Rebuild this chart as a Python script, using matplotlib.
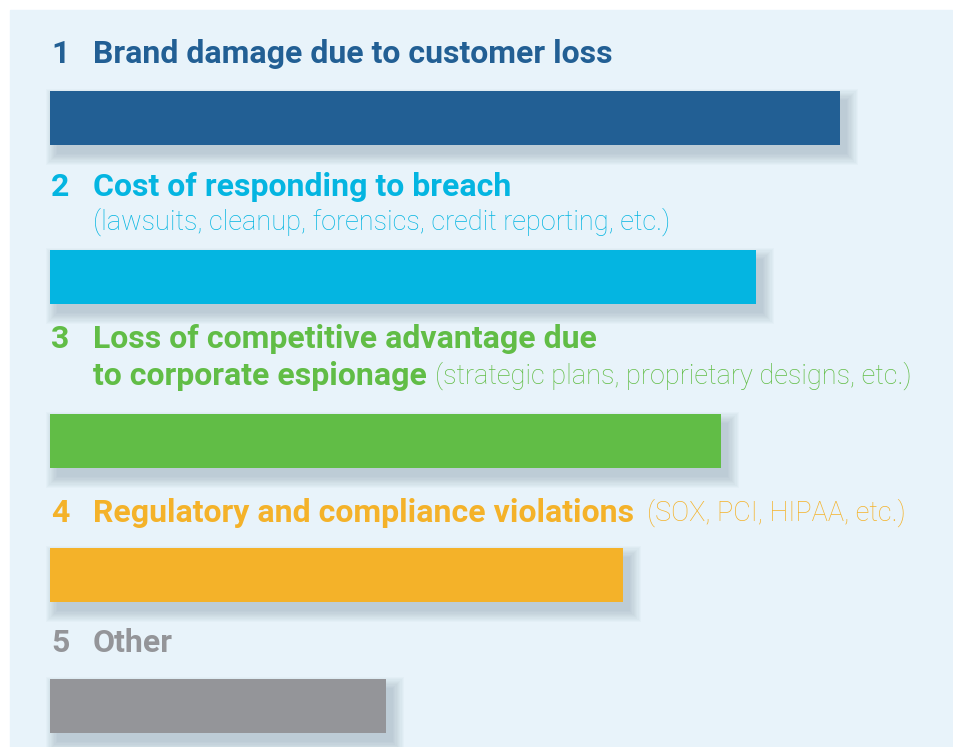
import matplotlib.pyplot as plt
from matplotlib.patches import Rectangle

plt.rcParams['font.family'] = ['Roboto', 'DejaVu Sans']

ranks = ['1', '2', '3', '4', '5']
titles = ['Brand damage due to customer loss',
          'Cost of responding to breach',
          'Loss of competitive advantage due\nto corporate espionage',
          'Regulatory and compliance violations',
          'Other']
notes = ['',
         '(lawsuits, cleanup, forensics, credit reporting, etc.)',
         '(strategic plans, proprietary designs, etc.)',
         '(SOX, PCI, HIPAA, etc.)',
         '']
values = [790, 706, 671, 573, 336]
colors = ['#225f94', '#04b5e1', '#61bd46', '#f4b229', '#949599']

# layout (pixels)
bar_top = [91, 250, 414, 548, 679]
title_y = [54, 187, 339, 513, 643]
note_gap = [0, 0, 6, 9, 0]
bar_h = 54
left = 50

fig = plt.figure(figsize=(9.54, 7.47), dpi=100)
ax = fig.add_axes([0, 0, 1, 1])
ax.set_xlim(0, 954)
ax.set_ylim(747, 0)
ax.axis('off')

ax.add_patch(Rectangle((10, 10), 942, 740, color='#e8f3fa', zorder=0))

centers = [t + bar_h / 2 for t in bar_top]

# soft shadow
for k in range(10):
    grow = 2.5 * k
    ax.barh([c + 9 for c in centers], [v + grow for v in values], left=left + 7 - grow / 2,
            height=bar_h + grow, color='#4a6578', alpha=0.028, linewidth=0, zorder=1)

ax.barh(centers, values, left=left, height=bar_h, color=colors, linewidth=0, zorder=2)

for i in range(len(titles)):
    c = colors[i]
    ax.text(51, title_y[i], ranks[i], color=c, fontsize=23, fontweight='bold',
            va='center', ha='left')
    lines = titles[i].split('\n')
    t = None
    for j, line in enumerate(lines):
        t = ax.text(93, title_y[i] + 37 * j, line, color=c, fontsize=23, fontweight='bold',
                    va='center', ha='left')
    if notes[i]:
        if i == 1:
            ax.text(93, title_y[i] + 35, notes[i], color=c, fontsize=19.5,
                    fontweight='light', va='center', ha='left')
        else:
            ax.annotate(notes[i], xy=(1, 0.5), xycoords=t, xytext=(note_gap[i], 0),
                        textcoords='offset points', color=c, fontsize=19.5,
                        fontweight='light', va='center', ha='left')

fig.savefig('out.png', dpi=100)
